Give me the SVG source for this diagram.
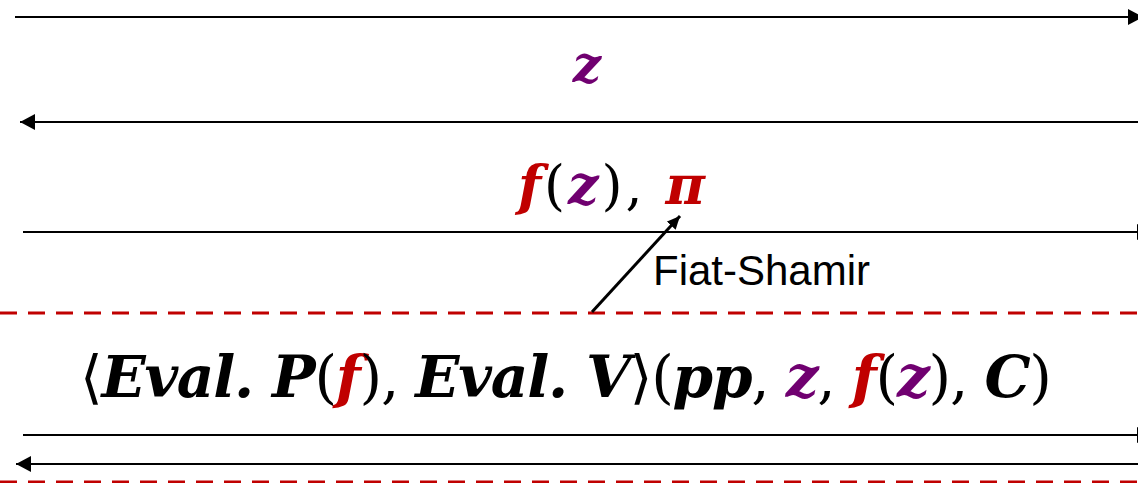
<svg xmlns="http://www.w3.org/2000/svg" width="1138" height="483" viewBox="0 0 1138 483">
<style>
.ln{stroke:#000;stroke-width:2.2;fill:none}
.dash{stroke:#C00000;stroke-width:3;stroke-dasharray:17 11;fill:none}
.m{font-family:"DejaVu Serif","Liberation Serif",serif}
.bi{font-weight:bold;font-style:italic}
.up{font-weight:normal;font-style:normal}
.r{fill:#C00000}
.p{fill:#700070}
.k{fill:#000}
.lbl{font-family:"Liberation Sans",Arial,sans-serif;font-size:42px;fill:#000}
</style>
<defs>
<marker id="ah" markerUnits="userSpaceOnUse" markerWidth="16" markerHeight="18" refX="15" refY="8" orient="auto">
<path d="M0,0 L15,8 L0,16 Z" fill="#000"/>
</marker>
<marker id="ahs" markerUnits="userSpaceOnUse" markerWidth="14" markerHeight="14" refX="13" refY="6" orient="auto">
<path d="M0,0 L13,6 L0,12 Z" fill="#000"/>
</marker>
</defs>
<g id="connectors">
<line class="ln" x1="15" y1="17" x2="1143" y2="17" marker-end="url(#ah)"/>
<line class="ln" x1="1140" y1="122" x2="20" y2="122" marker-end="url(#ah)"/>
<line class="ln" x1="23" y1="232" x2="1152" y2="232" marker-end="url(#ah)"/>
<line class="dash" x1="0" y1="313" x2="1138" y2="313"/>
<line stroke="#000" stroke-width="3" x1="592" y1="312" x2="680" y2="216" marker-end="url(#ahs)"/>
<line class="ln" x1="23" y1="435" x2="1152" y2="435" marker-end="url(#ah)"/>
<line class="ln" x1="1140" y1="464" x2="16" y2="464" marker-end="url(#ah)"/>
<line class="dash" x1="0" y1="482" x2="1138" y2="482"/>
</g>
<g id="msg-z">
<text class="m bi p" x="587" y="82" font-size="50" text-anchor="middle">z</text>
</g>
<g id="msg-fz-pi">
<text class="m" x="518" y="204" font-size="54" textLength="187" lengthAdjust="spacing"><tspan class="bi r">f</tspan><tspan class="up k">(</tspan><tspan class="bi p">z</tspan><tspan class="up k">), </tspan><tspan class="bi r">π</tspan></text>
</g>
<g id="fiat-shamir">
<text class="lbl" x="653" y="285">Fiat-Shamir</text>
</g>
<g id="eval">
<text class="m" x="80" y="397" font-size="58" textLength="972" lengthAdjust="spacing"><tspan class="up k">⟨</tspan><tspan class="bi k">Eval. P</tspan><tspan class="up k">(</tspan><tspan class="bi r">f</tspan><tspan class="up k">), </tspan><tspan class="bi k">Eval. V</tspan><tspan class="up k">⟩(</tspan><tspan class="bi k">pp</tspan><tspan class="up k">, </tspan><tspan class="bi p">z</tspan><tspan class="up k">, </tspan><tspan class="bi r">f</tspan><tspan class="up k">(</tspan><tspan class="bi p">z</tspan><tspan class="up k">), </tspan><tspan class="bi k">C</tspan><tspan class="up k">)</tspan></text>
</g>
</svg>
